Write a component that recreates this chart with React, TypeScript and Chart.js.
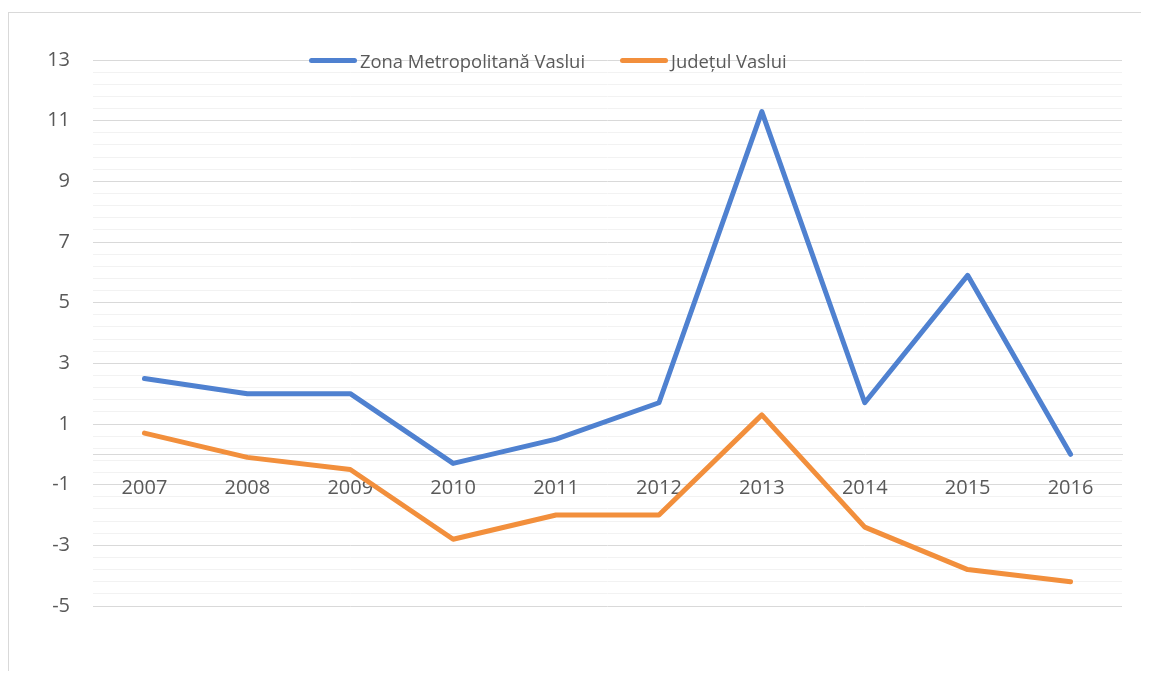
import React, { useEffect, useRef } from "react";
import { Chart, registerables } from "chart.js";

Chart.register(...registerables);

const years = ["2007", "2008", "2009", "2010", "2011", "2012", "2013", "2014", "2015", "2016"];
const zonaValues = [2.5, 2.0, 2.0, -0.3, 0.5, 1.7, 11.3, 1.7, 5.9, 0.0];
const judetValues = [0.7, -0.1, -0.5, -2.8, -2.0, -2.0, 1.3, -2.4, -3.8, -4.2];
const seriesNames = ["Zona Metropolitană Vaslui", "Județul Vaslui"];
const seriesColors = ["#4f81d0", "#f28f3c"];
const yMin = -5;
const yMax = 13;
const yMinorStep = 0.4;
const yLabelStep = 2;

const FONT = "'Open Sans', 'DejaVu Sans', sans-serif";
const TEXT_COLOR = "#595959";

const isMajor = (v: number) => {
  const k = (v - yMin) / yLabelStep;
  return Math.abs(k - Math.round(k)) < 1e-6;
};

export default function App() {
  const canvasRef = useRef<HTMLCanvasElement | null>(null);

  useEffect(() => {
    if (!canvasRef.current) return;
    const chart = new Chart(canvasRef.current, {
      type: "line",
      data: {
        labels: years,
        datasets: [
          {
            label: seriesNames[0],
            data: zonaValues,
            borderColor: seriesColors[0],
            backgroundColor: seriesColors[0],
            borderWidth: 5,
            pointRadius: 0,
            borderCapStyle: "round",
            borderJoinStyle: "round",
            tension: 0,
          },
          {
            label: seriesNames[1],
            data: judetValues,
            borderColor: seriesColors[1],
            backgroundColor: seriesColors[1],
            borderWidth: 5,
            pointRadius: 0,
            borderCapStyle: "round",
            borderJoinStyle: "round",
            tension: 0,
          },
        ],
      },
      options: {
        responsive: false,
        animation: false,
        devicePixelRatio: 1,
        layout: { padding: { left: 0, right: 27, top: 47, bottom: 65 } },
        plugins: {
          legend: { display: false },
          tooltip: { enabled: false },
        },
        scales: {
          x: {
            position: { y: 0 } as any,
            offset: true,
            grid: { display: false, drawTicks: false },
            border: { display: true, color: "#d9d9d9", width: 1 },
            ticks: {
              padding: 22,
              color: TEXT_COLOR,
              font: { family: FONT, size: 20 },
              maxRotation: 0,
              autoSkip: false,
            },
          },
          y: {
            min: yMin,
            max: yMax,
            afterBuildTicks: (scale: any) => {
              const n = Math.round((yMax - yMin) / yMinorStep);
              const ticks = [];
              for (let i = 0; i <= n; i++) {
                ticks.push({ value: +(yMin + i * yMinorStep).toFixed(2) });
              }
              scale.ticks = ticks;
            },
            afterFit: (scale: any) => {
              scale.width = 84;
            },
            grid: {
              drawTicks: false,
              lineWidth: 1,
              color: (ctx: any) => (ctx.tick && isMajor(ctx.tick.value) ? "#d9d9d9" : "#f2f2f2"),
            },
            border: { display: false },
            ticks: {
              autoSkip: false,
              padding: 23,
              color: TEXT_COLOR,
              font: { family: FONT, size: 20 },
              callback: (v: any) => (isMajor(Number(v)) ? String(Math.round(Number(v))) : ""),
            },
          },
        },
      },
    });
    return () => chart.destroy();
  }, []);

  return (
    <div style={{ paddingTop: 4 }}>
      <div
        style={{
          position: "relative",
          borderTop: "1px solid #d9d9d9",
          borderLeft: "1px solid #d9d9d9",
          width: 1140,
          height: 658,
        }}
      >
        <canvas ref={canvasRef} width={1140} height={658} style={{ display: "block" }} />
        <div
          style={{
            position: "absolute",
            left: 300,
            top: 35,
            height: 24,
            display: "flex",
            alignItems: "center",
            fontFamily: FONT,
            fontSize: 18.4,
            color: TEXT_COLOR,
            whiteSpace: "nowrap",
          }}
        >
          {seriesNames.map((name, i) => (
            <div
              key={name}
              style={{ display: "flex", alignItems: "center", marginRight: i === 0 ? 35 : 0 }}
            >
              <div
                style={{
                  width: 48,
                  height: 5,
                  borderRadius: 3,
                  background: seriesColors[i],
                  marginRight: 3,
                }}
              />
              <span>{name}</span>
            </div>
          ))}
        </div>
      </div>
    </div>
  );
}
